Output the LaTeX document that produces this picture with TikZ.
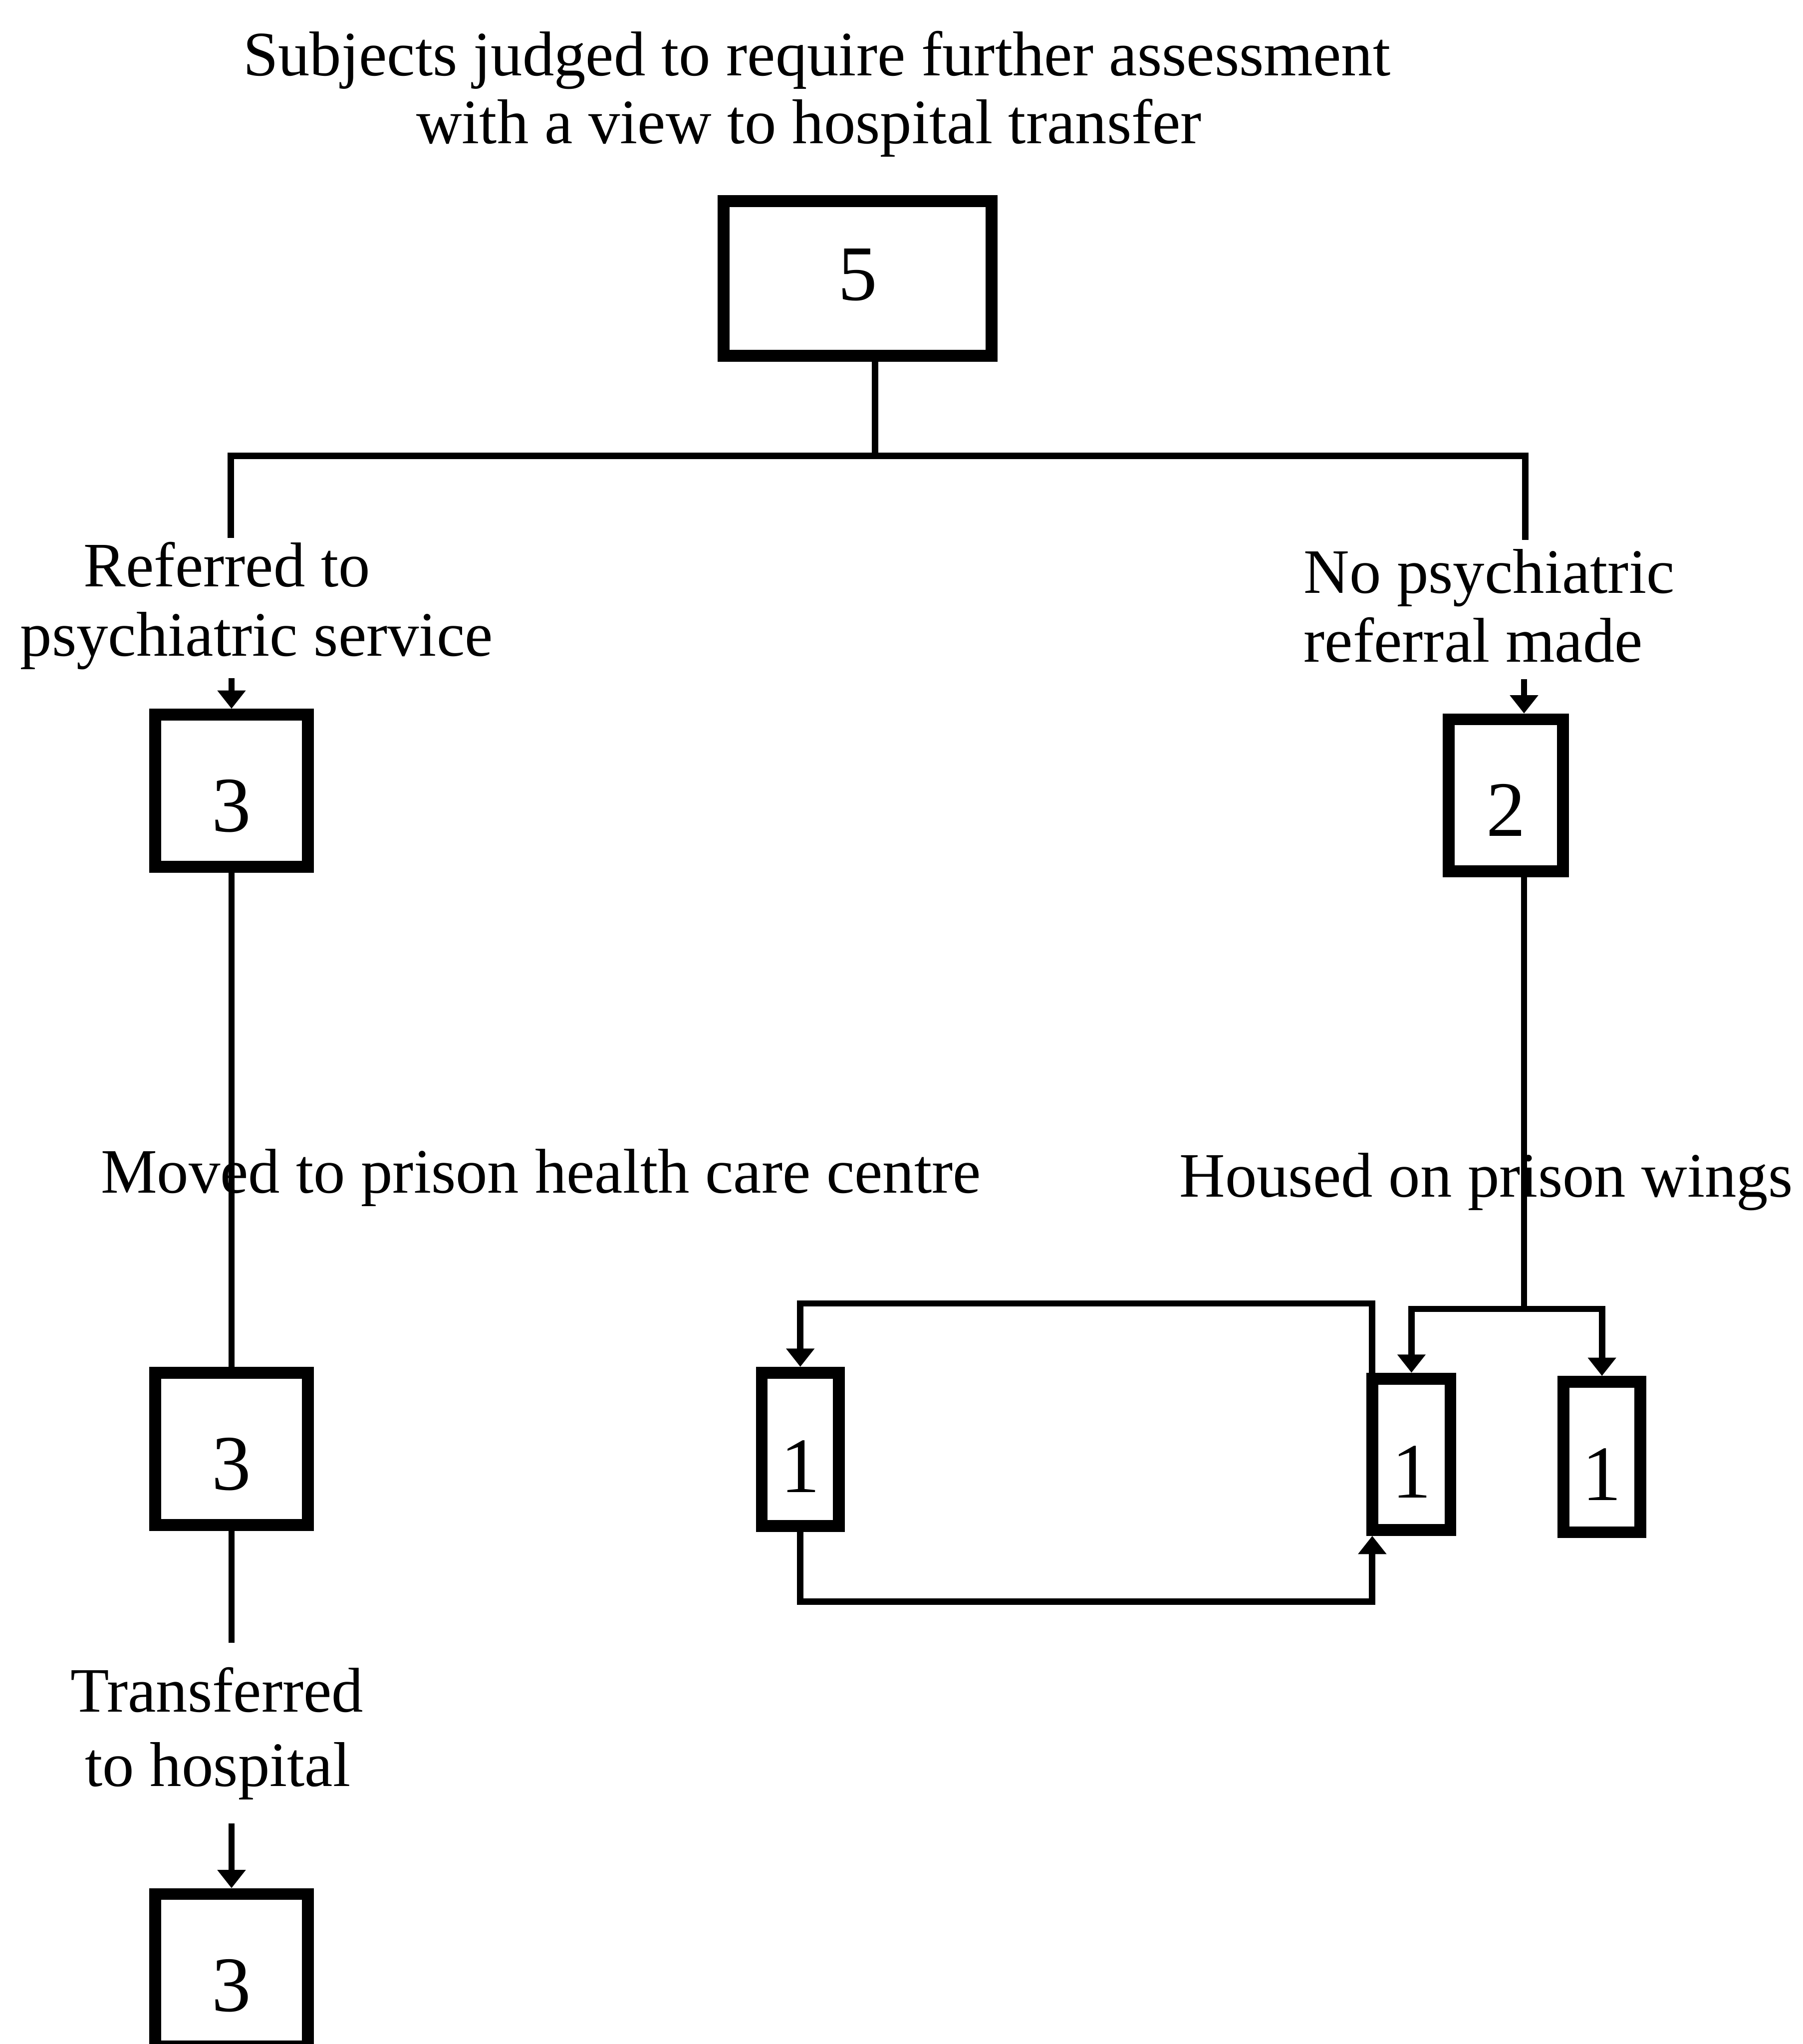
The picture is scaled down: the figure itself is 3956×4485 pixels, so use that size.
\documentclass[tikz,border=0pt]{standalone}
\usepackage{fontspec}
\setmainfont{Liberation Serif}
\usetikzlibrary{arrows.meta}
\begin{document}
\begin{tikzpicture}[x=0.1mm,y=-0.1mm,
  txt/.style={inner sep=0pt, font=\fontsize{39.5}{43}\selectfont},
  box/.style={inner sep=0pt, draw, line width=2.6mm, font=\fontsize{49}{52}\selectfont,
    text height=18mm, text depth=0pt},
  lbl/.style={txt, anchor=base},
  conn/.style={line width=1.4mm, line cap=rect, line join=miter},
  arr/.style={line width=1.4mm, line join=miter, -{Triangle[width=6mm,length=4mm]}}
]
\useasboundingbox (0,0) rectangle (3956,4485);
\clip (0,0) rectangle (3956,4485);

% labels
\node[lbl] (t1) at (1792,166) {Subjects judged to require further assessment};
\node[lbl] (t2) at (1775,315) {with a view to hospital transfer};
\node[lbl] (la) at (498,1287) {Referred to};
\node[lbl] (lb) at (563,1439) {psychiatric service};
\node[lbl, anchor=base west] (ra) at (2860,1301) {No psychiatric};
\node[lbl, anchor=base west] (rb) at (2860,1453) {referral made};
\node[lbl] (mv) at (1187,2617) {Moved to prison health care centre};
\node[lbl] (hs) at (3261,2626) {Housed on prison wings};
\node[lbl] (ta) at (476,3756) {Transferred};
\node[lbl] (tb) at (478,3919) {to hospital};

% boxes
\node[box, minimum width=58.8mm, minimum height=34mm, text height=9.5mm] (b5) at (1882,611) {5};
\node[box, minimum width=33.5mm, minimum height=33.4mm] (b3a) at (508,1735) {3};
\node[box, minimum width=25.1mm, minimum height=33.3mm] (b2) at (3304,1745) {2};
\node[box, minimum width=33.5mm, minimum height=33.4mm] (b3b) at (508,3179) {3};
\node[box, minimum width=16.9mm, minimum height=33.6mm, text height=19mm] (b1a) at (1756,3180) {1};
\node[box, minimum width=17.1mm, minimum height=33.2mm, text height=19mm] (b1b) at (3097,3191) {1};
\node[box, minimum width=16.9mm, minimum height=33mm, text height=19mm] (b1c) at (3515,3197) {1};
\node[box, minimum width=33.5mm, minimum height=33.4mm] (b3c) at (508,4323) {3};

% coordinates
\coordinate (j0) at (1920,1000);
\coordinate (jl) at (506,1000);
\coordinate (jr) at (3347,1000);
\coordinate (el) at (506,1173);
\coordinate (er) at (3347,1178);
\coordinate (sa) at (508,1488);
\coordinate (sb) at (3344,1490);
\coordinate (j2) at (3344,2872);
\coordinate (hl) at (3097,2872);
\coordinate (hr) at (3515,2872);
\coordinate (lt) at (3011,2860);
\coordinate (lbt) at (3011,3514);
\coordinate (e3) at (508,3598);
\coordinate (s3) at (508,4001);

% connectors
\draw[conn] (b5.south -| j0) -- (j0);
\draw[conn] (el) -- (jl) -- (jr) -- (er);
\draw[arr] (sa) -- (sa |- b3a.north);
\draw[arr] (sb) -- (sb |- b2.north);
\draw[conn] (b3a.south) -- (b3b.north);
\draw[conn] (b3b.south) -- (e3);
\draw[arr] (s3) -- (b3c.north);
\draw[conn] (sb |- b2.south) -- (j2);
\draw[conn] (hl) -- (hr);
\draw[arr] (hl) -- (b1b.north);
\draw[arr] (hr) -- (b1c.north);
\draw[arr] (lt |- b1b.north) -- (lt) -| (b1a.north);
\draw[arr] (b1a.south) |- (lbt) -- (lbt |- b1b.south);
\end{tikzpicture}
\end{document}
